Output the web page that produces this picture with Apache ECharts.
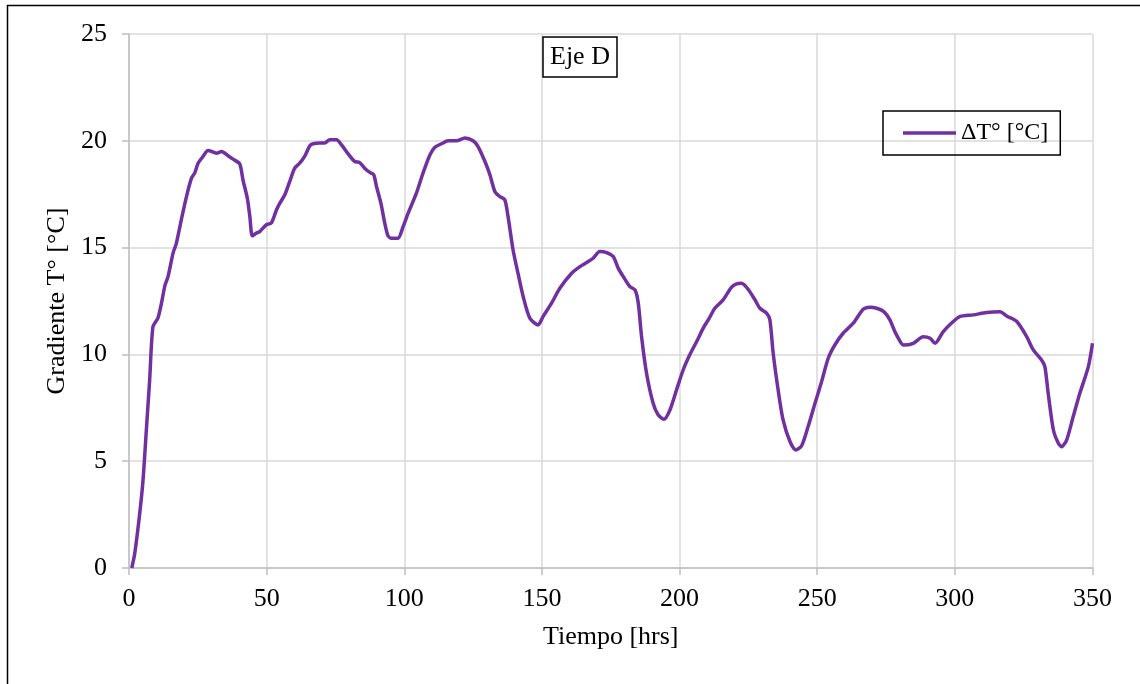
<!DOCTYPE html>
<html>
<head>
<meta charset="utf-8">
<script src="https://cdn.jsdelivr.net/npm/echarts@6/dist/echarts.min.js"></script>
<style>html,body{margin:0;padding:0;background:#fff;}#chart{width:1140px;height:684px;}</style>
</head>
<body>
<div id="chart"></div>
<script>
const chartTitle = "Eje D";
const seriesName = "ΔT° [°C]";
const xAxisName = "Tiempo [hrs]";
const yAxisName = "Gradiente T° [°C]";

const hrs = [1, 2.1, 3.9, 5.1, 6.3, 7.5, 8.7, 10.5, 11.8, 13, 14.2, 16, 17.2, 19, 20.9, 22.7, 23.9, 25.1, 26.9, 28.7,
  31.8, 33.6, 36, 37.8, 40.2, 41.4, 43, 43.9, 44.8, 46.3, 47.5, 49.9, 51.7, 53.6, 54.8, 56.6, 58.4, 60.2, 62, 63.8,
  65.7, 66.9, 69.3, 71.1, 72.9, 75.4, 77.2, 79.6, 82, 83.8, 85.6, 87.5, 88.9, 89.9, 91.5, 92.9, 94.1, 95.3, 97.7, 99.6,
  101.4, 104.4, 106.8, 109.3, 111.1, 113.5, 115.9, 119, 122, 125, 126.8, 129.3, 131.1, 132.9, 134.7, 136.5, 137.7, 139.5, 141.3, 143.2,
  145.6, 148.6, 150.4, 153.5, 156.5, 160.8, 163.8, 166.8, 168.6, 171, 173.5, 175.9, 177.7, 179.5, 181.9, 183.8, 185, 186.2, 188, 190.4,
  192.2, 194.3, 196.5, 198.9, 201.3, 203.7, 206.2, 208.6, 210.8, 212.8, 215.8, 218.9, 220.7, 222.5, 224.9, 227.4, 229.2, 231.6, 232.8, 234,
  235.8, 237.6, 240.1, 242.2, 244.3, 246.7, 249.2, 251.6, 254, 256.4, 259.4, 263.1, 266.7, 269.1, 271.6, 274.2, 276.4, 278.2, 279.8, 281.3,
  284.9, 288.5, 291, 292.8, 295.8, 299.4, 301.8, 306.7, 311.5, 316.4, 318.8, 322.5, 326.1, 328.5, 331.5, 332.7, 333.9, 335.8, 337.6, 338.8,
  340.6, 343, 345.4, 348.5, 350];
const deltaT = [0, 0.69, 2.56, 4.12, 6.46, 8.8, 11.3, 11.7, 12.4, 13.2, 13.65, 14.74, 15.2, 16.3, 17.4, 18.25, 18.5, 18.95, 19.27, 19.55,
  19.42, 19.5, 19.3, 19.14, 18.92, 18.17, 17.3, 16.45, 15.55, 15.68, 15.75, 16.07, 16.15, 16.77, 17.08, 17.47, 18.1, 18.72, 18.95, 19.27,
  19.77, 19.86, 19.9, 19.9, 20.05, 20.05, 19.81, 19.39, 19.03, 18.98, 18.72, 18.52, 18.41, 17.86, 17.08, 16.15, 15.55, 15.44, 15.44, 15.99,
  16.61, 17.55, 18.49, 19.34, 19.7, 19.86, 20.0, 20.0, 20.13, 20.0, 19.73, 19.03, 18.41, 17.63, 17.39, 17.24, 16.45, 14.9, 13.8, 12.7,
  11.7, 11.38, 11.77, 12.4, 13.1, 13.8, 14.11, 14.35, 14.5, 14.82, 14.77, 14.58, 14.04, 13.65, 13.18, 13.02, 12.4, 10.83, 9.12, 7.71,
  7.17, 6.96, 7.4, 8.34, 9.27, 9.98, 10.6, 11.23, 11.7, 12.16, 12.55, 13.15, 13.3, 13.33, 13.05, 12.55, 12.16, 11.93, 11.62, 10.06,
  8.34, 6.93, 5.92, 5.53, 5.71, 6.62, 7.71, 8.73, 9.82, 10.44, 10.99, 11.46, 12.11, 12.21, 12.16, 12.0, 11.62, 11.07, 10.68, 10.44,
  10.52, 10.83, 10.76, 10.52, 11.07, 11.54, 11.77, 11.85, 11.96, 12.0, 11.8, 11.54, 10.83, 10.21, 9.74, 9.43, 8.18, 6.46, 5.84, 5.68,
  5.99, 7.09, 8.18, 9.43, 10.52];

const xTicks = { min: 0, max: 350, interval: 50 };
const yTicks = { min: 0, max: 25, interval: 5 };

const points = hrs.map((h, i) => [h, deltaT[i]]);
const font = "'Liberation Serif', 'Times New Roman', serif";

const chart = echarts.init(document.getElementById('chart'), null, { renderer: 'canvas' });
chart.setOption({
  backgroundColor: '#ffffff',
  animation: false,
  graphic: [{
    type: 'rect', silent: true, z: 100,
    shape: { x: 7.5, y: 5.5, width: 1300, height: 900 },
    style: { fill: 'none', stroke: '#000', lineWidth: 1.5 }
  }],
  title: {
    text: chartTitle,
    left: 543, top: 37,
    padding: [7, 7, 7, 7],
    borderColor: '#000', borderWidth: 1.5,
    textStyle: { fontFamily: font, fontSize: 26, fontWeight: 'normal', color: '#000' }
  },
  legend: {
    data: [seriesName],
    left: 883, top: 111,
    padding: [10, 12, 10, 20],
    borderColor: '#000', borderWidth: 1.5,
    icon: 'rect', itemWidth: 53, itemHeight: 3.5, itemGap: 5,
    textStyle: { fontFamily: font, fontSize: 24, color: '#000' }
  },
  grid: { left: 129, right: 47.5, top: 34, bottom: 116, containLabel: false },
  xAxis: {
    type: 'value', min: xTicks.min, max: xTicks.max, interval: xTicks.interval,
    name: xAxisName, nameLocation: 'middle', nameGap: 56,
    nameTextStyle: { fontFamily: font, fontSize: 26, color: '#000' },
    axisLine: { show: true, lineStyle: { color: '#bfbfbf', width: 1.5 } },
    axisTick: { show: true, length: 7, lineStyle: { color: '#bfbfbf', width: 1.5 } },
    axisLabel: { fontFamily: font, fontSize: 26, color: '#000', margin: 18 },
    splitLine: { show: true, lineStyle: { color: '#d9d9d9', width: 1.5 } }
  },
  yAxis: {
    type: 'value', min: yTicks.min, max: yTicks.max, interval: yTicks.interval,
    name: yAxisName, nameLocation: 'middle', nameGap: 55,
    nameTextStyle: { fontFamily: font, fontSize: 26, color: '#000' },
    axisLine: { show: true, lineStyle: { color: '#bfbfbf', width: 1.5 } },
    axisTick: { show: true, length: 7, lineStyle: { color: '#bfbfbf', width: 1.5 } },
    axisLabel: { fontFamily: font, fontSize: 26, color: '#000', margin: 22 },
    splitLine: { show: true, lineStyle: { color: '#d9d9d9', width: 1.5 } }
  },
  series: [{
    name: seriesName,
    type: 'line',
    data: points,
    showSymbol: false,
    smooth: 0.25,
    clip: true,
    lineStyle: { color: '#7030a0', width: 3.5 },
    itemStyle: { color: '#7030a0' }
  }]
});
</script>
</body>
</html>
